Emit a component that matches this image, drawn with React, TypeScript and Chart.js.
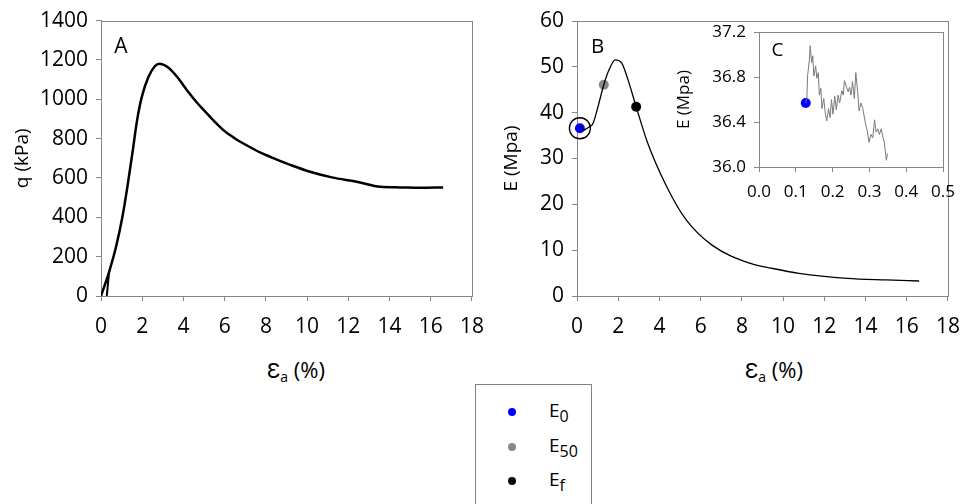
import React, { useEffect, useRef } from "react";
import { Chart, registerables } from "chart.js";
Chart.register(...registerables);

const FONT = "'Open Sans', 'Liberation Sans', sans-serif";
const AXIS_GRAY = "#868686";

// ---- Panel A: deviator stress vs axial strain ----
const strainA = [0, 0.42, 0.73, 1.04, 1.28, 1.52, 1.75, 1.98, 2.3, 2.61, 2.84, 3.23, 3.7, 4.17, 4.64, 5.0, 5.5, 6.0, 6.5, 7.0, 7.77, 8.5, 9.3, 10.1, 11.2, 12.45, 13.55, 14.5, 15.5, 16.6];
const qA = [0, 132, 250, 403, 555, 724, 893, 1012, 1113, 1168, 1181, 1164, 1113, 1046, 985, 944, 888, 838, 801, 770, 727, 695, 662, 633, 603, 580, 555, 552, 550, 552];
const strainA2 = [0.28, 0.4];
const qA2 = [0, 130];

// ---- Panel B: modulus vs axial strain ----
const strainB = [0.14, 0.2, 0.27, 0.35, 0.45, 0.6, 0.77, 1.0, 1.3, 1.55, 1.86, 2.17, 2.48, 2.87, 3.42, 4.36, 5.3, 6.55, 8.42, 9.5, 10.77, 13.1, 15.0, 16.6];
const eB = [36.6, 37.0, 36.5, 36.2, 36.5, 36.9, 37.6, 41.0, 46.1, 49.3, 51.5, 50.8, 47.1, 41.3, 33.5, 23.8, 16.6, 11.1, 7.1, 6.0, 4.95, 3.85, 3.5, 3.27];
const markerNames = ["E0", "E50", "Ef"];
const markerStrain = [0.14, 1.3, 2.87];
const markerE = [36.6, 46.1, 41.3];
const markerColors = ["#0000ff", "#888888", "#000000"];

// ---- Panel C: inset, zoom of the initial part ----
const strainC = [0.127, 0.13, 0.132, 0.137, 0.139, 0.143, 0.146, 0.149, 0.154, 0.157, 0.161, 0.164, 0.168, 0.171, 0.176, 0.18, 0.184, 0.189, 0.193, 0.197, 0.201, 0.206, 0.21, 0.215, 0.219, 0.225, 0.229, 0.232, 0.238, 0.242, 0.246, 0.25, 0.254, 0.259, 0.263, 0.268, 0.272, 0.277, 0.282, 0.288, 0.294, 0.299, 0.304, 0.309, 0.314, 0.318, 0.323, 0.327, 0.332, 0.337, 0.34, 0.346, 0.349];
const eC = [36.57, 36.61, 36.81, 36.96, 37.08, 36.93, 36.99, 36.81, 36.9, 36.79, 36.84, 36.64, 36.7, 36.52, 36.61, 36.48, 36.41, 36.52, 36.44, 36.6, 36.47, 36.63, 36.51, 36.64, 36.57, 36.68, 36.64, 36.77, 36.71, 36.67, 36.71, 36.64, 36.76, 36.61, 36.84, 36.67, 36.5, 36.57, 36.52, 36.41, 36.32, 36.22, 36.29, 36.26, 36.42, 36.31, 36.34, 36.29, 36.34, 36.26, 36.23, 36.06, 36.12];
const e0StrainC = [0.127];
const e0ValueC = [36.57];

// ---- axis ranges / ticks ----
const xRangeMain = [0, 18, 2];
const yRangeA = [0, 1400, 200];
const yRangeB = [0, 60, 10];
const xRangeC = [0, 0.5, 0.1];
const yRangeC = [36.0, 37.2, 0.4];

const pts = (xs: number[], ys: number[]) => xs.map((x, i) => ({ x, y: ys[i] }));

const boxPlugin = {
  id: "box",
  beforeDatasetsDraw(chart: any) {
    const { ctx, chartArea: a } = chart;
    ctx.save();
    ctx.strokeStyle = AXIS_GRAY;
    ctx.lineWidth = 1;
    ctx.strokeRect(Math.round(a.left) + 0.5, Math.round(a.top) + 0.5, Math.round(a.right - a.left), Math.round(a.bottom - a.top));
    ctx.restore();
  },
};

function axis(range: number[], size: number, pad: number, fit: (s: any) => void, decimals: number | null, title?: any) {
  return {
    type: "linear",
    min: range[0],
    max: range[1],
    ticks: {
      stepSize: range[2],
      color: "#000",
      font: { family: FONT, size },
      padding: pad,
      callback: (v: number) => (decimals === null ? String(v) : Number(v).toFixed(decimals)),
    },
    grid: { drawOnChartArea: false, drawTicks: true, tickLength: 5, color: AXIS_GRAY },
    border: { color: AXIS_GRAY },
    afterFit: fit,
    title: title || { display: false },
  };
}

function useChart(ref: any, cfg: () => any) {
  useEffect(() => {
    const c = new Chart(ref.current, cfg());
    return () => c.destroy();
  }, []);
}

const baseOpts = {
  responsive: false,
  animation: false,
  plugins: { legend: { display: false }, tooltip: { enabled: false } },
};

function Label({ x, y, size, children }: any) {
  return (
    <div style={{ position: "absolute", left: x, top: y, transform: "translate(-50%,-50%)", fontFamily: FONT, fontSize: size, lineHeight: 1, whiteSpace: "nowrap", color: "#000" }}>
      {children}
    </div>
  );
}

export default function App() {
  const refA = useRef<HTMLCanvasElement>(null);
  const refB = useRef<HTMLCanvasElement>(null);
  const refC = useRef<HTMLCanvasElement>(null);

  useChart(refA, () => ({
    type: "scatter",
    data: {
      datasets: [
        { data: pts(strainA, qA), showLine: true, borderColor: "#000", borderWidth: 2.5, pointRadius: 0, cubicInterpolationMode: "monotone" },
        { data: pts(strainA2, qA2), showLine: true, borderColor: "#000", borderWidth: 2, pointRadius: 0 },
      ],
    },
    options: {
      ...baseOpts,
      layout: { padding: { left: 0, right: 12, top: 20, bottom: 0 } },
      scales: {
        x: axis(xRangeMain, 21, 13, (s: any) => { s.height = 44; }, null),
        y: axis(yRangeA, 21, 8, (s: any) => { s.width = 101; }, null, {
          display: true, text: "q (kPa)", color: "#000", font: { family: FONT, size: 19 }, padding: { top: 11, bottom: 0 },
        }),
      },
    },
    plugins: [boxPlugin],
  }));

  useChart(refB, () => ({
    type: "scatter",
    data: {
      datasets: [
        { label: "E", data: pts(strainB, eB), showLine: true, borderColor: "#000", borderWidth: 1.3, pointRadius: 0, cubicInterpolationMode: "monotone" },
        ...markerNames.map((n, i) => ({
          label: n, data: [{ x: markerStrain[i], y: markerE[i] }], pointRadius: 5, pointBackgroundColor: markerColors[i], pointBorderColor: markerColors[i], pointBorderWidth: 0, clip: false,
        })),
        { label: "circle", data: [{ x: markerStrain[0], y: markerE[0] }], pointRadius: 10.5, pointBackgroundColor: "rgba(0,0,0,0)", pointBorderColor: "#000", pointBorderWidth: 1.3, clip: false },
      ],
    },
    options: {
      ...baseOpts,
      layout: { padding: { left: 0, right: 12, top: 21, bottom: 0 } },
      scales: {
        x: axis(xRangeMain, 21, 13, (s: any) => { s.height = 44; }, null),
        y: axis(yRangeB, 21, 8, (s: any) => { s.width = 80; }, null, {
          display: true, text: "E (Mpa)", color: "#000", font: { family: FONT, size: 19 }, padding: { top: 3, bottom: 0 },
        }),
      },
    },
    plugins: [boxPlugin],
  }));

  useChart(refC, () => ({
    type: "scatter",
    data: {
      datasets: [
        { data: pts(strainC, eC), showLine: true, borderColor: "#7a7a7a", borderWidth: 1, pointRadius: 0 },
        { data: pts(e0StrainC, e0ValueC), pointRadius: 5, pointBackgroundColor: "#0000ff", pointBorderColor: "#0000ff", pointBorderWidth: 0 },
      ],
    },
    options: {
      ...baseOpts,
      layout: { padding: { left: 0, right: 16, top: 15, bottom: 0 } },
      scales: {
        x: axis(xRangeC, 17, 10, (s: any) => { s.height = 40; }, 1),
        y: axis(yRangeC, 17, 8, (s: any) => { s.width = 94; }, 1, {
          display: true, text: "E (Mpa)", color: "#000", font: { family: FONT, size: 17 }, padding: { top: 9, bottom: 0 },
        }),
      },
    },
    plugins: [
      {
        id: "whiteBg",
        beforeDraw(chart: any) {
          const { ctx, chartArea: a } = chart;
          ctx.save();
          ctx.fillStyle = "#fff";
          ctx.fillRect(a.left, a.top, a.right - a.left, a.bottom - a.top);
          ctx.restore();
        },
      },
      boxPlugin,
    ],
  }));

  const xTitle = (
    <span>
      Ɛ<span style={{ fontSize: 14, position: "relative", top: 4 }}>a</span> (%)
    </span>
  );

  const sub = (t: string) => <span style={{ fontSize: 16, position: "relative", top: 5 }}>{t}</span>;
  const legendRows = [
    { color: markerColors[0], label: <>E{sub("0")}</> },
    { color: markerColors[1], label: <>E{sub("50")}</> },
    { color: markerColors[2], label: <>E{sub("f")}</> },
  ];
  const rowY = [412, 446.5, 480.5];

  return (
    <div style={{ position: "absolute", left: 0, top: 0, width: 973, height: 504, overflow: "hidden", background: "#fff" }}>
      <canvas ref={refA} width={497} height={340} style={{ position: "absolute", left: 0, top: 0 }} />
      <canvas ref={refB} width={476} height={340} style={{ position: "absolute", left: 497, top: 0 }} />
      <canvas ref={refC} width={300} height={193} style={{ position: "absolute", left: 665, top: 14 }} />
      <Label x={121} y={44.5} size={21}>A</Label>
      <Label x={597.5} y={45} size={20.5}>B</Label>
      <Label x={777.5} y={48.5} size={19}>C</Label>
      <Label x={296} y={369} size={22}>{xTitle}</Label>
      <Label x={774} y={369} size={22}>{xTitle}</Label>
      <div style={{ position: "absolute", left: 475, top: 384, width: 117, height: 140, border: "1px solid #808080", boxSizing: "border-box" }} />
      {legendRows.map((r, i) => (
        <React.Fragment key={i}>
          <div style={{ position: "absolute", left: 507.5, top: rowY[i] - 4, width: 8, height: 8, borderRadius: 4, background: r.color }} />
          <div style={{ position: "absolute", left: 549, top: rowY[i] - 11, fontFamily: FONT, fontSize: 19, lineHeight: "19px", color: "#000" }}>{r.label}</div>
        </React.Fragment>
      ))}
    </div>
  );
}
